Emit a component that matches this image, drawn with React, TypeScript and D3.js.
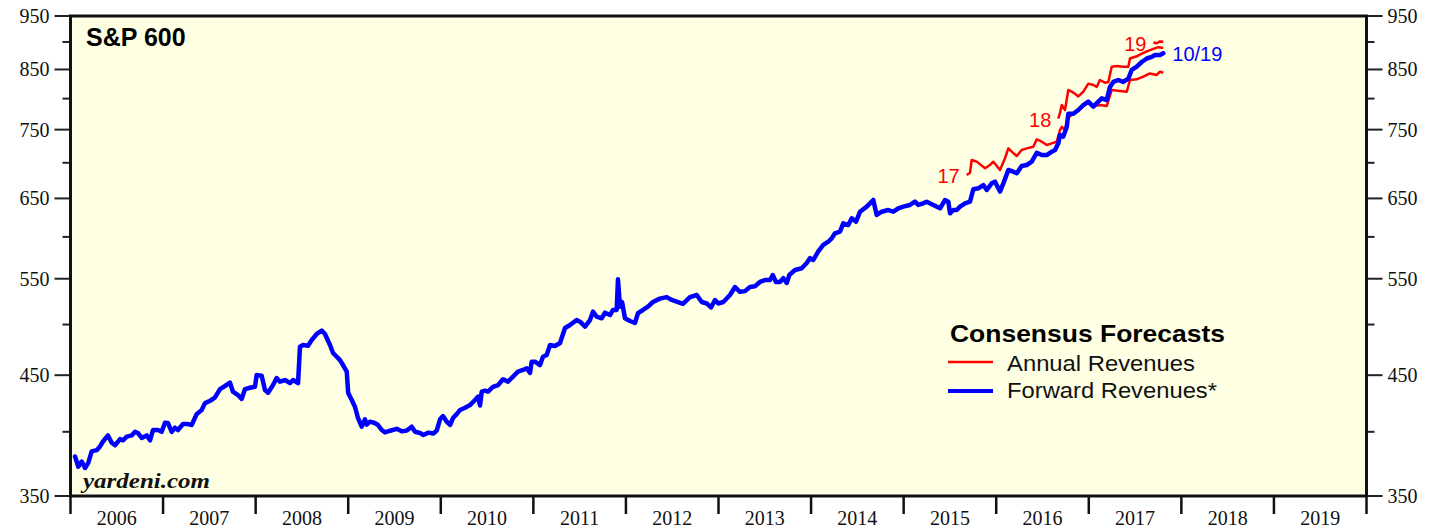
import React from "react";
import * as d3 from "d3";

// ---- Data (decimal year, value) ----
const yTickLabels = [350, 450, 550, 650, 750, 850, 950];
const yMinorTicks = [400, 500, 600, 700, 800, 900];
const yearLabels = [2006, 2007, 2008, 2009, 2010, 2011, 2012, 2013, 2014, 2015, 2016, 2017, 2018, 2019];

const forwardRevenues: [number, number][] = [
  [2006.049, 380], [2006.084, 372], [2006.121, 376], [2006.157, 371], [2006.192, 375], [2006.229, 384],
  [2006.283, 385], [2006.319, 388], [2006.351, 392], [2006.405, 397], [2006.445, 391], [2006.481, 389],
  [2006.535, 394], [2006.567, 393], [2006.607, 396], [2006.661, 397], [2006.697, 400], [2006.729, 399],
  [2006.769, 395], [2006.823, 397], [2006.859, 393], [2006.891, 401.5], [2006.945, 401.5], [2006.985, 400],
  [2007.021, 407.6], [2007.053, 407.4], [2007.093, 400], [2007.129, 403.4], [2007.161, 401.5], [2007.215, 406.5],
  [2007.269, 406.5], [2007.309, 405.7], [2007.363, 415], [2007.417, 418.6], [2007.453, 424.6], [2007.509, 426.7],
  [2007.559, 429.4], [2007.615, 437.2], [2007.669, 440], [2007.723, 443], [2007.755, 434.8], [2007.809, 431.8],
  [2007.849, 428.3], [2007.885, 437.2], [2007.939, 438.4], [2007.993, 439.3],
  [2008.011, 450.2], [2008.065, 449.5], [2008.101, 436.3], [2008.134, 433.9], [2008.188, 440.9], [2008.227, 447.4],
  [2008.263, 444], [2008.317, 445.5], [2008.371, 442.7], [2008.404, 445.5], [2008.458, 442.7], [2008.479, 477.5],
  [2008.512, 479.2], [2008.566, 478.5], [2008.606, 484.2], [2008.66, 490.3], [2008.714, 493.7], [2008.749, 490.3],
  [2008.803, 479.2], [2008.836, 471.3], [2008.876, 467.6], [2008.911, 464.4], [2008.944, 459.6], [2008.984, 453.3],
  [2009.0, 433.6], [2009.038, 427.4], [2009.073, 421.4], [2009.106, 411.6], [2009.146, 404.3], [2009.181, 410.5],
  [2009.2, 406], [2009.235, 408.5], [2009.286, 407.4], [2009.322, 405.7], [2009.362, 401.5], [2009.398, 399.5],
  [2009.452, 400.9], [2009.524, 402.5], [2009.578, 400.4], [2009.633, 401], [2009.686, 404.3], [2009.722, 400],
  [2009.776, 399], [2009.812, 397.4], [2009.866, 399.3], [2009.920, 398.6], [2009.956, 401], [2009.992, 410.5],
  [2010.024, 413.3], [2010.064, 408.5], [2010.1, 405.7], [2010.132, 411.6], [2010.172, 415], [2010.208, 418.6],
  [2010.262, 420.5], [2010.316, 422.9], [2010.37, 427.4], [2010.402, 430.3], [2010.424, 422.5], [2010.442, 434.8],
  [2010.478, 435.7], [2010.51, 434.8], [2010.564, 439.3], [2010.619, 440.9], [2010.672, 446.2], [2010.726, 444],
  [2010.78, 448.6], [2010.834, 453.3], [2010.888, 454.9], [2010.928, 456.5], [2010.964, 452.1], [2010.982, 462.8],
  [2011.018, 462.8], [2011.072, 459.6], [2011.104, 467.6], [2011.144, 469.3], [2011.18, 479.2], [2011.234, 478.2],
  [2011.288, 481.2], [2011.342, 496.4], [2011.396, 499.5], [2011.468, 504.7], [2011.504, 503], [2011.558, 497.8],
  [2011.612, 504.7], [2011.644, 513.6], [2011.684, 508.2], [2011.738, 506.5], [2011.774, 512.5], [2011.828, 510],
  [2011.86, 515.4], [2011.9, 515.4], [2011.914, 549.3], [2011.936, 518.9], [2011.958, 524], [2011.99, 506.5],
  [2012.044, 503.7], [2012.098, 501.6], [2012.13, 512.1], [2012.184, 515.4], [2012.238, 518.9], [2012.292, 524],
  [2012.367, 527.7], [2012.44, 529.4], [2012.495, 526.2], [2012.616, 522], [2012.692, 529.4], [2012.765, 531.7],
  [2012.819, 524], [2012.873, 522.4], [2012.919, 518.1], [2012.962, 526.2], [2012.998, 522.4],
  [2013.052, 524], [2013.124, 531.7], [2013.178, 540.6], [2013.232, 535.2], [2013.286, 536], [2013.34, 540.6],
  [2013.394, 541.4], [2013.448, 546.3], [2013.502, 548.5], [2013.556, 548.5], [2013.586, 554.3], [2013.621, 546.3],
  [2013.664, 546.3], [2013.7, 550.6], [2013.737, 545.2], [2013.765, 554.3], [2013.827, 560.1], [2013.899, 562.1],
  [2013.953, 568.3], [2013.989, 574.1], [2014.024, 571.9], [2014.078, 582.1], [2014.132, 590], [2014.186, 594],
  [2014.223, 598.2], [2014.258, 604.5], [2014.312, 606.6], [2014.348, 617.2], [2014.402, 615], [2014.439, 623.7],
  [2014.486, 619.3], [2014.529, 632.3], [2014.601, 639], [2014.655, 645.7], [2014.672, 647.9], [2014.709, 628],
  [2014.763, 632.3], [2014.834, 634.5], [2014.889, 632.3], [2014.942, 636.8], [2014.996, 639],
  [2015.068, 641.2], [2015.122, 645.6], [2015.158, 641.2], [2015.212, 643.4], [2015.249, 645.6], [2015.321, 641.2],
  [2015.393, 636.8], [2015.447, 647.9], [2015.483, 645.6], [2015.501, 630.2], [2015.536, 634.5], [2015.573, 634.5],
  [2015.609, 639], [2015.663, 643.4], [2015.717, 645.6], [2015.753, 662.5], [2015.807, 663.8], [2015.861, 668.4],
  [2015.898, 661.5], [2015.951, 670.7], [2015.987, 673], [2016.041, 659.3], [2016.077, 670.7], [2016.131, 689.6],
  [2016.185, 687.2], [2016.222, 684.9], [2016.275, 695.4], [2016.33, 696.8], [2016.384, 701.6], [2016.438, 714.8],
  [2016.492, 711.4], [2016.546, 711.4], [2016.6, 716.4], [2016.636, 718.9], [2016.671, 729], [2016.689, 741.7],
  [2016.725, 739.2], [2016.762, 754.2], [2016.779, 775.3], [2016.833, 775.3], [2016.887, 781.3], [2016.941, 789.4],
  [2016.995, 794.9], [2017.049, 786.9], [2017.103, 794.9], [2017.14, 800.5], [2017.194, 797.7], [2017.229, 819.7],
  [2017.265, 828.2], [2017.319, 831.6], [2017.373, 828.2], [2017.427, 834.1], [2017.464, 849.1], [2017.518, 854.9],
  [2017.572, 863.3], [2017.626, 869.6], [2017.68, 872.6], [2017.715, 876], [2017.769, 876], [2017.805, 879],
];

const annual2017: [number, number][] = [
  [2015.681, 682.5], [2015.717, 685.7], [2015.735, 704.1], [2015.789, 701.7], [2015.879, 692.2], [2015.933, 696.8],
  [2015.969, 701.6], [2016.041, 689.6], [2016.095, 706.5], [2016.131, 721.3], [2016.167, 716.4], [2016.222, 710],
  [2016.275, 718.9], [2016.33, 721.3], [2016.401, 723.8], [2016.438, 735], [2016.492, 731.4], [2016.546, 726.4],
  [2016.6, 728.9], [2016.654, 731.4], [2016.689, 749.4], [2016.708, 754.3], [2016.743, 749.4], [2016.775, 769],
  [2016.833, 775], [2016.887, 780], [2016.941, 788], [2016.995, 793], [2017.049, 787.8], [2017.12, 789.4],
  [2017.194, 787.8], [2017.248, 814.5], [2017.316, 813], [2017.41, 811.7], [2017.445, 831.6], [2017.518, 832.8],
  [2017.589, 837.3], [2017.661, 843], [2017.734, 840.3], [2017.769, 846], [2017.805, 844.3],
];

const annual2018: [number, number][] = [
  [2016.671, 767.5], [2016.689, 776.5], [2016.708, 789.4], [2016.743, 781.3], [2016.779, 814.5], [2016.815, 811.7],
  [2016.851, 808], [2016.887, 803.6], [2016.941, 811.7], [2016.995, 825.3], [2017.049, 823], [2017.086, 819.7],
  [2017.12, 831.6], [2017.174, 827], [2017.211, 828.2], [2017.248, 854.9], [2017.302, 856], [2017.373, 854.9],
  [2017.427, 854.9], [2017.445, 869.6], [2017.518, 873.6], [2017.572, 878.6], [2017.626, 882.7], [2017.698, 887.2],
  [2017.752, 890.4], [2017.805, 889],
];

const annual2019: [number, number][] = [
  [2017.698, 899], [2017.734, 897.6], [2017.769, 901], [2017.805, 900.5],
];

const annualSeries = [
  { label: "17", data: annual2017 },
  { label: "18", data: annual2018 },
  { label: "19", data: annual2019 },
];

const W = 1448;
const H = 529;
const M = { left: 70.5, right: 1366.5, top: 16, bottom: 496 };

export default function App() {
  const x = d3.scaleLinear().domain([2006, 2020]).range([M.left, M.right]);
  const y = d3.scaleLog().domain([350, 950]).range([M.bottom, M.top]);
  const line = d3
    .line<[number, number]>()
    .x((d) => x(d[0]))
    .y((d) => y(d[1]));

  const serif = "'Liberation Serif', 'Times New Roman', serif";
  const sans = "'Liberation Sans', Arial, Helvetica, sans-serif";
  const years = d3.range(2006, 2021);

  const fwdEnd = forwardRevenues[forwardRevenues.length - 1];

  return (
    <svg
      width={W}
      height={H}
      style={{ position: "absolute", left: 0, top: 0, background: "#fff" }}
    >
      <rect x={M.left} y={M.top} width={M.right - M.left} height={M.bottom - M.top} fill="#FFFFE3" />

      {/* Y ticks left & right */}
      {yTickLabels.map((v) => (
        <g key={"yl" + v}>
          <line x1={M.left - 16} x2={M.left} y1={y(v)} y2={y(v)} stroke="#222" strokeWidth={2} />
          <line x1={M.right} x2={M.right + 16} y1={y(v)} y2={y(v)} stroke="#222" strokeWidth={2} />
          <text x={M.left - 21} y={y(v)} dy="0.35em" textAnchor="end" fontFamily={serif} fontSize={20} fill="#111">
            {v}
          </text>
          <text x={M.right + 21} y={y(v)} dy="0.35em" textAnchor="start" fontFamily={serif} fontSize={20} fill="#111">
            {v}
          </text>
        </g>
      ))}
      {yMinorTicks.map((v) => (
        <g key={"ym" + v}>
          <line x1={M.left - 8} x2={M.left} y1={y(v)} y2={y(v)} stroke="#222" strokeWidth={2} />
          <line x1={M.right} x2={M.right + 8} y1={y(v)} y2={y(v)} stroke="#222" strokeWidth={2} />
        </g>
      ))}

      {/* X ticks */}
      {years.map((yr) => (
        <line key={"xt" + yr} x1={x(yr)} x2={x(yr)} y1={M.bottom} y2={M.bottom + 18} stroke="#111" strokeWidth={2.5} />
      ))}
      {yearLabels.map((yr) => (
        <text key={"xl" + yr} x={x(yr + 0.5)} y={525} textAnchor="middle" fontFamily={serif} fontSize={20} fill="#111">
          {yr}
        </text>
      ))}

      {/* Series */}
      {annualSeries.map((s) => (
        <path key={s.label} d={line(s.data) || ""} fill="none" stroke="#FF0000" strokeWidth={2.5} strokeLinejoin="round" />
      ))}
      <path d={line(forwardRevenues) || ""} fill="none" stroke="#0000FF" strokeWidth={4.5} strokeLinejoin="round" strokeLinecap="round" />

      {/* Series labels */}
      {annualSeries.map((s) => (
        <text
          key={"lab" + s.label}
          x={x(s.data[0][0]) - 7}
          y={y(s.data[0][1]) + 8}
          textAnchor="end"
          fontFamily={sans}
          fontSize={20}
          fill="#FF0000"
        >
          {s.label}
        </text>
      ))}
      <text x={x(fwdEnd[0]) + 9} y={y(fwdEnd[1]) + 8} fontFamily={sans} fontSize={20} fill="#0000FF">
        10/19
      </text>

      {/* Frame */}
      <rect
        x={M.left}
        y={M.top}
        width={M.right - M.left}
        height={M.bottom - M.top}
        fill="none"
        stroke="#111"
        strokeWidth={3}
      />

      {/* Title & source */}
      <text x={86} y={46} fontFamily={sans} fontWeight="bold" fontSize={25} fill="#000">
        S&amp;P 600
      </text>
      <text
        x={83}
        y={488}
        fontFamily={serif}
        fontWeight="bold"
        fontStyle="italic"
        fontSize={22}
        fill="#111"
        textLength={127}
        lengthAdjust="spacingAndGlyphs"
      >
        yardeni.com
      </text>

      {/* Legend */}
      <text x={950} y={342} fontFamily={sans} fontWeight="bold" fontSize={24} fill="#000" textLength={275} lengthAdjust="spacingAndGlyphs">
        Consensus Forecasts
      </text>
      <line x1={948} x2={993} y1={362} y2={362} stroke="#FF0000" strokeWidth={2.5} />
      <text x={1007} y={371} fontFamily={sans} fontSize={22} fill="#111" textLength={188} lengthAdjust="spacingAndGlyphs">
        Annual Revenues
      </text>
      <line x1={948} x2={993} y1={391} y2={391} stroke="#0000FF" strokeWidth={4} />
      <text x={1007} y={398} fontFamily={sans} fontSize={22} fill="#111" textLength={210} lengthAdjust="spacingAndGlyphs">
        Forward Revenues*
      </text>
    </svg>
  );
}
